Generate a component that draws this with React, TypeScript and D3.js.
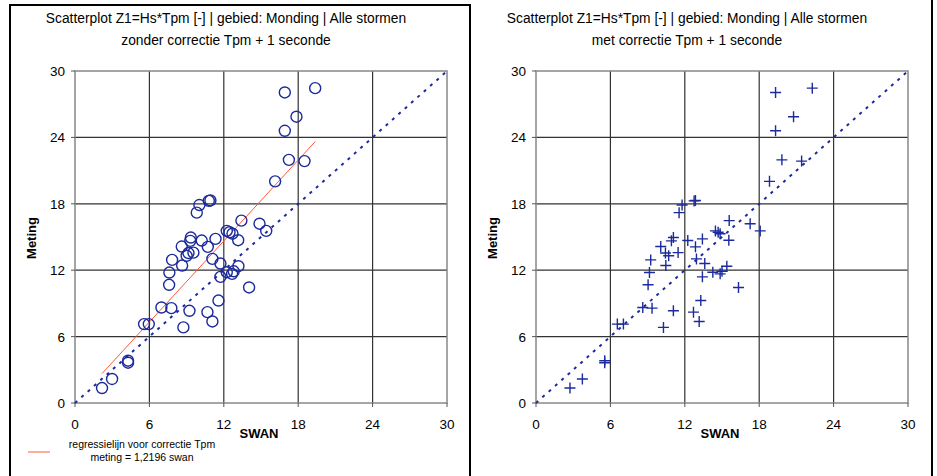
import * as d3 from "d3";

// meting (measured Z1) shared by both panels
const meting = [
  28.45, 28.06, 25.87, 24.6, 21.97, 21.86, 20.03, 18.3, 18.26, 17.89, 17.2,
  16.48, 16.2, 15.55, 15.55, 15.43, 15.3, 14.71, 14.83, 14.68, 14.95, 14.65,
  14.14, 14.11, 13.55, 13.59, 13.3, 12.93, 12.42, 13.02, 12.6, 12.36, 11.82,
  11.67, 11.9, 11.4, 11.79, 10.68, 10.44, 9.26, 8.63, 8.57, 8.33, 8.21, 7.37,
  6.83, 7.13, 7.13, 3.82, 3.64, 2.17, 1.35,
];
// SWAN without correction
const swanZonder = [
  19.37, 16.92, 17.86, 16.92, 17.25, 18.51, 16.14, 10.92, 10.79, 10.03, 9.82,
  13.42, 14.88, 15.42, 12.24, 12.46, 12.7, 13.16, 11.33, 10.22, 9.34, 9.3,
  8.61, 10.71, 9.15, 9.55, 9.0, 7.83, 8.64, 11.08, 11.73, 13.18, 12.24,
  12.67, 12.8, 11.73, 7.61, 7.59, 14.04, 11.57, 6.97, 7.77, 9.23, 10.68, 11.08,
  8.74, 5.57, 5.95, 4.28, 4.28, 2.99, 2.18,
];
// SWAN with correction Tpm + 1 s
const swanMet = [
  22.28, 19.32, 20.77, 19.32, 19.83, 21.42, 18.83, 12.86, 12.75, 11.78, 11.54,
  15.58, 17.27, 18.08, 14.47, 14.69, 14.85, 15.55, 13.42, 12.24, 11.08, 10.92,
  10.06, 12.86, 10.44, 11.46, 10.7, 9.25, 10.47, 12.94, 13.61, 15.39, 14.26,
  14.85, 15.0, 13.42, 9.15, 9.04, 16.33, 13.29, 8.61, 9.36, 11.08, 12.7, 13.16,
  10.28, 6.56, 7.05, 5.54, 5.54, 3.74, 2.74,
];
const ticks = [0, 6, 12, 18, 24, 30];
const regSlope = 1.2196;

const blue = "#1b2a9c";
const font = "'Liberation Sans', Arial, sans-serif";

function Panel({ x0, swan, title2, marker, regression }) {
  const x = d3.scaleLinear().domain([0, 30]).range([x0, x0 + 372]);
  const y = d3.scaleLinear().domain([0, 30]).range([403, 71]);
  const cx = (x.range()[0] + x.range()[1]) / 2;
  const ext = d3.extent(swan);
  const regLine = d3.line().x((d) => x(d)).y((d) => y(d * regSlope));
  const diag = d3.line().x((d) => x(d)).y((d) => y(d));

  return (
    <g>
      <text x={cx - 35} y={23} textAnchor="middle" fontSize={13.8} fontFamily={font}>
        Scatterplot Z1=Hs*Tpm [-] | gebied: Monding | Alle stormen
      </text>
      <text x={cx - 35} y={45} textAnchor="middle" fontSize={13.8} fontFamily={font}>
        {title2}
      </text>
      {/* grid */}
      {ticks.slice(1, -1).map((t) => (
        <g key={t}>
          <line x1={x(t)} x2={x(t)} y1={y(0)} y2={y(30)} stroke="#333" strokeWidth={1.2} />
          <line x1={x(0)} x2={x(30)} y1={y(t)} y2={y(t)} stroke="#333" strokeWidth={1.2} />
        </g>
      ))}
      <rect x={x(0)} y={y(30)} width={x(30) - x(0)} height={y(0) - y(30)} fill="none" stroke="#888" strokeWidth={1.5} />
      {/* ticks */}
      {ticks.map((t) => (
        <g key={"t" + t} fontFamily={font} fontSize={13.5}>
          <line x1={x(0) - 4} x2={x(0)} y1={y(t)} y2={y(t)} stroke="#555" />
          <text x={x(0) - 10} y={y(t) + 5} textAnchor="end">{t}</text>
          <line x1={x(t)} x2={x(t)} y1={y(0)} y2={y(0) + 4} stroke="#555" />
          <text x={x(t)} y={y(0) + 26} textAnchor="middle">{t}</text>
        </g>
      ))}
      <text x={cx - 2} y={438} textAnchor="middle" fontSize={13} fontWeight="bold" fontFamily={font}>SWAN</text>
      <text transform={`translate(${x0 - 39},238) rotate(-90)`} textAnchor="middle" fontSize={13} fontWeight="bold" fontFamily={font}>Meting</text>
      {/* y = x */}
      <path d={diag([0, 30])} stroke={blue} strokeWidth={2} strokeDasharray="3,5.5" fill="none" />
      {regression && (
        <path d={regLine(ext)} stroke="#ff5a3a" strokeWidth={1} fill="none" />
      )}
      {swan.map((s, i) =>
        marker === "circle" ? (
          <circle key={i} cx={x(s)} cy={y(meting[i])} r={5.5} fill="none" stroke={blue} strokeWidth={1.4} />
        ) : (
          <path key={i} d={`M${x(s) - 5.5},${y(meting[i])}h11M${x(s)},${y(meting[i]) - 5.5}v11`} stroke={blue} strokeWidth={1.4} fill="none" />
        )
      )}
    </g>
  );
}

export default function App() {
  return (
    <svg width={937} height={476} style={{ position: "absolute", left: 0, top: 0, background: "#fff" }}>
      <rect width={937} height={476} fill="#fff" />
      {/* frames */}
      <line x1={10} x2={10} y1={4} y2={476} stroke="#000" strokeWidth={2} />
      <line x1={9} x2={471} y1={5} y2={5} stroke="#000" strokeWidth={2} />
      <line x1={470} x2={470} y1={4} y2={476} stroke="#000" strokeWidth={2} />
      <line x1={932} x2={932} y1={0} y2={476} stroke="#000" strokeWidth={2} />
      <Panel x0={75} swan={swanZonder} title2="zonder correctie Tpm + 1 seconde" marker="circle" regression />
      <Panel x0={536} swan={swanMet} title2="met correctie Tpm + 1 seconde" marker="cross" regression={false} />
      {/* legend */}
      <line x1={28} x2={50} y1={452} y2={452} stroke="#ff5a3a" strokeWidth={1} />
      <text x={142} y={448} textAnchor="middle" fontSize={10.5} fontFamily={font}>regressielijn voor correctie Tpm</text>
      <text x={142} y={461} textAnchor="middle" fontSize={10.5} fontFamily={font}>meting = 1,2196 swan</text>
    </svg>
  );
}
